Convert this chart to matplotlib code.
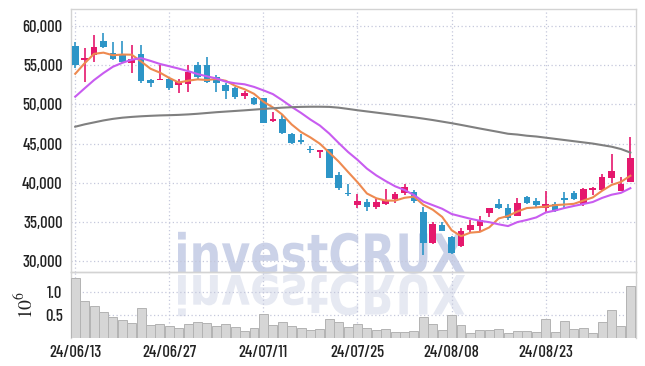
import numpy as np
import pandas as pd
import matplotlib
matplotlib.use('Agg')
from matplotlib import pyplot as plt
from matplotlib.textpath import TextPath
from matplotlib.patches import PathPatch
from matplotlib.font_manager import FontProperties
import matplotlib.transforms as mtransforms

# daily candles 24/06/13 .. 24/09/05
opens = [57500, 55650, 56300, 58100, 56600, 56400, 55300, 56400, 53100, 53150,
         53200, 52450, 52650, 55000, 55000, 53500, 52450, 52050, 51100, 50850,
         50750, 47900, 48100, 46200, 45400, 44300, 43900, 44250, 40950, 38750,
         37150, 37600, 36950, 37250, 37900, 38750, 38800, 36300, 32350, 34600,
         33100, 31950, 33950, 34500, 36200, 37350, 36750, 35750, 38200, 37700,
         36750, 37350, 38050, 38700, 37300, 39050, 39100, 40650, 38950, 40150]
highs = [57900, 57200, 58850, 59150, 58000, 58100, 57600, 57600, 53200, 55000,
         53500, 53200, 55000, 55350, 56000, 53700, 52750, 52200, 51700, 50900,
         50800, 49000, 48750, 46300, 46200, 44700, 44200, 44300, 41350, 39800,
         38500, 37900, 37900, 39150, 38850, 39800, 39050, 36950, 34950, 35050,
         33200, 34200, 35250, 35750, 36800, 37900, 37350, 38000, 38300, 38000,
         38950, 37600, 38850, 38900, 39300, 39450, 41100, 43650, 40750, 45850]
lows = [54600, 52900, 55450, 57150, 55700, 55250, 53950, 52700, 52200, 53100,
        51850, 51400, 51600, 53100, 52700, 51600, 50700, 50700, 50700, 49950,
        47600, 47700, 46200, 45000, 45000, 43750, 43100, 40600, 39050, 38350,
        36800, 36450, 36600, 37200, 37450, 38450, 37450, 30750, 32200, 33800,
        30950, 31750, 33750, 33900, 35600, 36700, 35250, 35700, 37300, 36750,
        36100, 36300, 36650, 37800, 37050, 38450, 38950, 39950, 38900, 40100]
closes = [55000, 55900, 57350, 57300, 55800, 55450, 55800, 53000, 52700, 53300,
          52050, 52900, 54150, 53550, 52900, 52700, 51750, 50900, 51400, 50000,
          47650, 48150, 46300, 45100, 45150, 44200, 44150, 40650, 39350, 38500,
          37700, 36950, 37600, 37850, 38500, 39500, 37700, 32350, 34750, 33900,
          31050, 33850, 34600, 35250, 36750, 36750, 35450, 37450, 37450, 37150,
          37300, 36400, 37800, 37900, 39200, 39300, 40700, 41500, 39850, 43100]
# volume in millions
volume = [1.29, 0.80, 0.69, 0.56, 0.45, 0.39, 0.32, 0.64, 0.28, 0.30,
          0.26, 0.21, 0.30, 0.34, 0.32, 0.26, 0.30, 0.24, 0.15, 0.21,
          0.51, 0.28, 0.34, 0.26, 0.21, 0.17, 0.19, 0.41, 0.34, 0.24,
          0.30, 0.21, 0.17, 0.19, 0.13, 0.13, 0.15, 0.45, 0.30, 0.17,
          0.50, 0.28, 0.11, 0.17, 0.17, 0.19, 0.11, 0.15, 0.15, 0.13,
          0.41, 0.13, 0.36, 0.19, 0.21, 0.11, 0.34, 0.60, 0.26, 1.12]
# moving-average values before enough visible days exist
ma5_head = [53900, 55250, 56450, 56600]
ma10_head = [50980, 52050, 53100, 54000, 54800, 55300, 55700, 55900, 55550]
# long moving average (grey)
ma_long = [47150, 47450, 47700, 47950, 48150, 48300, 48400, 48480, 48540, 48590,
           48620, 48660, 48720, 48800, 48900, 49000, 49080, 49160, 49240, 49330,
           49420, 49500, 49580, 49640, 49680, 49700, 49700, 49680, 49580, 49420,
           49250, 49100, 48950, 48800, 48650, 48500, 48350, 48180, 48000, 47800,
           47600, 47380, 47150, 46920, 46700, 46480, 46250, 46150, 46000, 45900,
           45750, 45600, 45450, 45300, 45150, 45000, 44800, 44600, 44300, 43850]
tick_idx = [0, 10, 20, 30, 40, 50]
tick_labels = ['24/06/13', '24/06/27', '24/07/11', '24/07/25', '24/08/08', '24/08/23']

df = pd.DataFrame({'o': opens, 'h': highs, 'l': lows, 'c': closes, 'v': volume})
df['ma5'] = df['c'].rolling(5).mean()
df.loc[:3, 'ma5'] = ma5_head
df['ma10'] = df['c'].rolling(10).mean()
df.loc[:8, 'ma10'] = ma10_head
x = np.arange(len(df))

UP = '#e5186d'
DOWN = '#2d95c7'
GRID = '#c5c8dc'
FRAME = '#d3d3d3'
TXT = '#222222'
plt.rcParams['font.family'] = ['Barlow Condensed', 'DejaVu Sans']
plt.rcParams['font.weight'] = 'medium'
plt.rcParams['mathtext.fontset'] = 'stix'

W, H = 645, 366
fig = plt.figure(figsize=(W / 100, H / 100), dpi=100)
fig.patch.set_facecolor('white')
ax = fig.add_axes([71 / W, 1 - 272 / H, (636 - 71) / W, (272 - 9) / H])
axv = fig.add_axes([71 / W, 1 - 338 / H, (636 - 71) / W, (338 - 272) / H], sharex=ax)

for a in (ax, axv):
    a.set_facecolor('none')
    for s in a.spines.values():
        s.set_color(FRAME)
        s.set_linewidth(1)
    a.grid(True, color=GRID, linestyle=(0, (1, 2)), linewidth=0.9)
    a.set_axisbelow(True)
    a.tick_params(length=0, labelsize=12, colors=TXT, pad=6)
axv.spines['bottom'].set_visible(False)

# candles
up = df['c'] >= df['o']
cols = np.where(up, UP, DOWN)
ax.vlines(x, df['l'], df['h'], colors=cols, linewidth=1.2, zorder=3)
body_lo = np.minimum(df['o'], df['c'])
body_h = np.maximum(np.abs(df['c'] - df['o']), 150)
ax.bar(x, body_h, bottom=body_lo, width=0.7, color=cols, linewidth=0, zorder=4)

ax.plot(x, df['ma5'], color='#ee8a50', linewidth=1.5, zorder=5)
ax.plot(x, df['ma10'], color='#c85cf0', linewidth=1.5, zorder=5)
ax.plot(x, ma_long, color='#808080', linewidth=1.5, zorder=5)

ax.set_xlim(-0.45, 59.6)
ax.set_ylim(28610, 62170)
ax.set_yticks([30000, 35000, 40000, 45000, 50000, 55000, 60000])
ax.set_yticklabels(['{:,}'.format(v) for v in range(30000, 60001, 5000)])
ax.set_xticks(tick_idx)
ax.tick_params(axis='x', labelbottom=False)

axv.bar(x, df['v'], width=0.95, color='#d6d6d6', edgecolor='#b3b3b3', linewidth=0.7, zorder=3)
axv.set_ylim(0, 1.42)
axv.set_yticks([0.5, 1.0])
axv.set_yticklabels(['0.5', '1.0'])
axv.set_xticks(tick_idx)
axv.set_xticklabels(tick_labels)
axv.tick_params(axis='x', pad=5)
axv.set_ylabel(r'$10^6$', fontsize=14, color=TXT, labelpad=6)

# watermark with mirrored reflection
fp = FontProperties(family=['DejaVu Sans'], weight='bold')
tp = TextPath((0, 0), 'investCRUX', size=100, prop=fp)
ext = tp.get_extents()
cap = TextPath((0, 0), 'C', size=100, prop=fp).get_extents().height
sx = (465 - 178) / ext.width
sy = 41 / cap
t_main = mtransforms.Affine2D().translate(-ext.x0, 0).scale(sx, sy).translate(178, H - 273)
t_refl = mtransforms.Affine2D().translate(-ext.x0, 0).scale(sx, -sy).translate(178, H - 275)
wm = PathPatch(tp, facecolor='#cbd2e8', edgecolor='none', zorder=-1)
wm.set_transform(t_main)
wr = PathPatch(tp, facecolor='#e6e9f2', edgecolor='none', zorder=-1)
wr.set_transform(t_refl)
fig.add_artist(wr)
fig.add_artist(wm)

fig.savefig('out.png', dpi=100)
